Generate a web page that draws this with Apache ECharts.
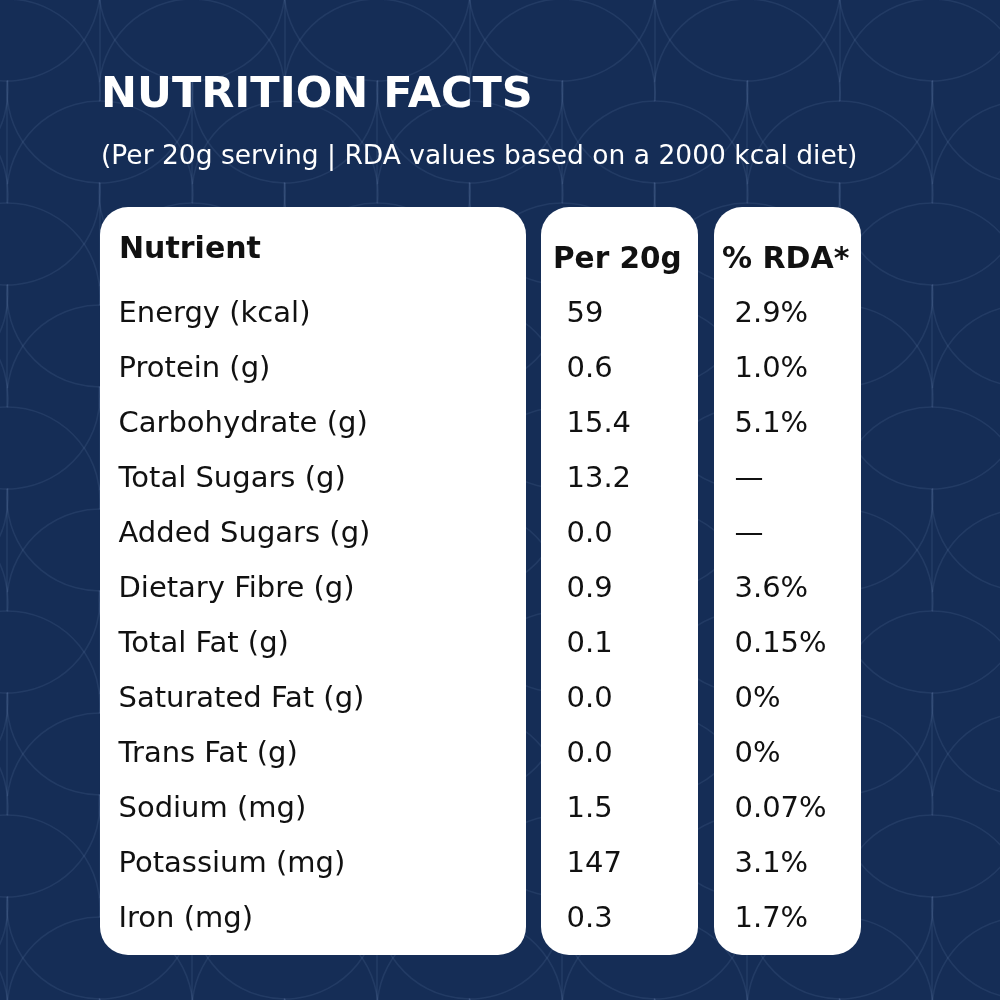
<!DOCTYPE html>
<html>
<head>
<meta charset="utf-8">
<script src="https://cdn.jsdelivr.net/npm/echarts@6/dist/echarts.min.js"></script>
<style>html,body{margin:0;padding:0;background:#152d56;}#c{width:1000px;height:1000px;}</style>
</head>
<body>
<div id="c"></div>
<script>
const titleText = 'NUTRITION FACTS';
const subtitleText = '(Per 20g serving | RDA values based on a 2000 kcal diet)';
const columnHeaders = ['Nutrient', 'Per 20g', '% RDA*'];
const nutrients = ['Energy (kcal)', 'Protein (g)', 'Carbohydrate (g)', 'Total Sugars (g)', 'Added Sugars (g)', 'Dietary Fibre (g)', 'Total Fat (g)', 'Saturated Fat (g)', 'Trans Fat (g)', 'Sodium (mg)', 'Potassium (mg)', 'Iron (mg)'];
const per20g = ['59', '0.6', '15.4', '13.2', '0.0', '0.9', '0.1', '0.0', '0.0', '1.5', '147', '0.3'];
const rda = ['2.9%', '1.0%', '5.1%', '—', '—', '3.6%', '0.15%', '0%', '0%', '0.07%', '3.1%', '1.7%'];

const FONT = '"DejaVu Sans"';
const chart = echarts.init(document.getElementById('c'), null, {renderer: 'canvas'});

// decorative background pattern
const pat = [];
const stroke = {stroke: 'rgba(150,175,220,0.11)', lineWidth: 1.6, fill: null};
const R = 93, H = 52, A = 0.105;
for (let k = -1; k <= 10; k++) {
  const cy = 40 + 102 * k;
  const x0 = (k % 2 === 0) ? 7 : 100;
  for (let j = -1; j <= 6; j++) {
    const cx = x0 + 185 * j;
    pat.push({type: 'arc', silent: true, shape: {cx: cx, cy: cy + H, r: R, startAngle: Math.PI + A, endAngle: 2 * Math.PI + A, clockwise: true}, style: stroke});
    pat.push({type: 'arc', silent: true, shape: {cx: cx, cy: cy - H, r: R, startAngle: -A, endAngle: Math.PI + A, clockwise: true}, style: stroke});
    pat.push({type: 'line', silent: true, shape: {x1: cx, y1: cy + 41, x2: cx, y2: cy + 204 - 41}, style: stroke});
  }
}

const boxes = [
  {type: 'rect', shape: {x: 100, y: 207, width: 426, height: 748, r: 28}, style: {fill: '#ffffff'}},
  {type: 'rect', shape: {x: 541, y: 207, width: 157, height: 748, r: 28}, style: {fill: '#ffffff'}},
  {type: 'rect', shape: {x: 714, y: 207, width: 147, height: 748, r: 28}, style: {fill: '#ffffff'}}
];

const texts = [
  {type: 'text', style: {x: 101, y: 96, text: titleText, fill: '#ffffff', font: 'bold 43px ' + FONT, textVerticalAlign: 'middle'}},
  {type: 'text', style: {x: 101, y: 157, text: subtitleText, fill: '#ffffff', font: '26.5px ' + FONT, textVerticalAlign: 'middle'}},
  {type: 'text', style: {x: 119, y: 250, text: columnHeaders[0], fill: '#111111', font: 'bold 30px ' + FONT, textVerticalAlign: 'middle'}},
  {type: 'text', style: {x: 553, y: 260, text: columnHeaders[1], fill: '#111111', font: 'bold 29.5px ' + FONT, textVerticalAlign: 'middle'}},
  {type: 'text', style: {x: 722, y: 260, text: columnHeaders[2], fill: '#111111', font: 'bold 30px ' + FONT, textVerticalAlign: 'middle'}}
];

function colSeries(xPos, values, name) {
  return {
    type: 'scatter', name: name, symbolSize: 1, itemStyle: {color: 'rgba(0,0,0,0)', opacity: 1}, silent: true,
    data: values.map((v, i) => ({value: [xPos, nutrients[i]], label: {formatter: v}})),
    label: {show: true, position: 'right', distance: 0, color: '#111111', opacity: 1, fontFamily: 'DejaVu Sans', fontSize: 29, fontWeight: 'normal'},
    z: 10
  };
}

chart.setOption({
  backgroundColor: '#152d56',
  animation: false,
  grid: {left: 0, right: 0, top: 286.5, height: 660},
  xAxis: {type: 'value', min: 0, max: 1000, show: false},
  yAxis: {type: 'category', data: nutrients, inverse: true, show: false},
  graphic: [{type: 'group', z: 0, children: pat}, {type: 'group', children: boxes}, {type: 'group', children: texts}],
  series: [
    colSeries(118, nutrients, 'Nutrient'),
    colSeries(566, per20g, 'Per 20g'),
    colSeries(734, rda, '% RDA*')
  ]
});
</script>
</body>
</html>
